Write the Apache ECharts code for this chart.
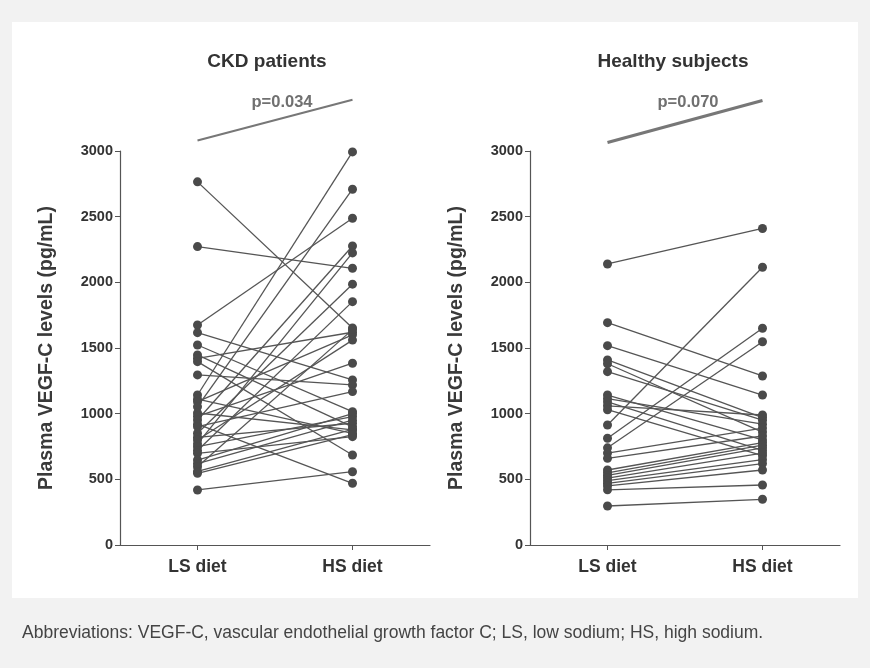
<!DOCTYPE html>
<html>
<head>
<meta charset="utf-8">
<script src="https://cdn.jsdelivr.net/npm/echarts@6/dist/echarts.min.js"></script>
<style>
html,body{margin:0;padding:0;background:#f2f2f2;}
#chart{width:870px;height:668px;}
</style>
</head>
<body>
<div id="chart"></div>
<script>
// ---- data ----
const categories = ['LS diet', 'HS diet'];
const yTicks = [0, 500, 1000, 1500, 2000, 2500, 3000];
const ckdLS = [2765, 2272, 1675, 1617, 1523, 1447, 1421, 1396, 1295, 1142, 1110, 1091, 1053, 1005, 980, 952, 920, 901, 851, 820, 800, 770, 749, 720, 698, 647, 620, 596, 560, 546, 419];
const ckdHS = [1653, 2107, 2488, 1257, 1015, 900, 1620, 685, 1219, 2993, 850, 1600, 2709, 876, 1384, 2277, 470, 1168, 1986, 927, 1560, 2224, 977, 1853, 825, 1000, 950, 1640, 880, 840, 558];
const hLS = [2140, 1693, 1518, 1409, 1380, 1320, 1142, 1115, 1090, 1060, 1030, 914, 813, 740, 700, 660, 571, 550, 530, 510, 490, 470, 450, 420, 297];
const hHS = [2410, 1287, 1142, 970, 860, 950, 800, 920, 720, 990, 680, 2115, 1650, 1548, 890, 830, 780, 760, 740, 700, 650, 620, 571, 457, 348];
const ckdPLine = [3080, 3390];
const hPLine = [3065, 3385];
const panelTitles = ['CKD patients', 'Healthy subjects'];
const pTexts = ['p=0.034', 'p=0.070'];
const yName = 'Plasma VEGF-C levels (pg/mL)';
const caption = 'Abbreviations: VEGF-C, vascular endothelial growth factor C; LS, low sodium; HS, high sodium.';

const FONT = '"Liberation Sans", Arial, Helvetica, sans-serif';
const chart = echarts.init(document.getElementById('chart'), null, {renderer: 'canvas'});

function yAxis(gi) {
  return {
    gridIndex: gi, type: 'value', min: 0, max: 3000, interval: 500,
    name: yName, nameLocation: 'middle', nameGap: 63, nameRotate: 90,
    nameTextStyle: {fontFamily: FONT, fontWeight: 'bold', fontSize: 19.5, color: '#3a3a3a'},
    axisLine: {show: true, lineStyle: {color: '#555', width: 1.2}},
    axisTick: {show: true, length: 5, lineStyle: {color: '#555'}},
    axisLabel: {fontFamily: FONT, fontWeight: 'bold', fontSize: 14.5, color: '#333', margin: 7,
      formatter: v => String(v)},
    splitLine: {show: false}
  };
}
function xAxis(gi) {
  return {
    gridIndex: gi, type: 'category', data: categories, boundaryGap: true,
    axisLine: {show: true, lineStyle: {color: '#555', width: 1.2}},
    axisTick: {show: true, alignWithLabel: true, length: 5, lineStyle: {color: '#555'}},
    axisLabel: {fontFamily: FONT, fontWeight: 'bold', fontSize: 17.5, color: '#333', margin: 13},
    splitLine: {show: false}
  };
}
function pairSeries(gi, ls, hs) {
  return ls.map((v, i) => ({
    type: 'line', xAxisIndex: gi, yAxisIndex: gi,
    data: [v, hs[i]],
    symbol: 'circle', symbolSize: 9,
    itemStyle: {color: '#4a4a4a'},
    lineStyle: {color: '#555', width: 1.3},
    silent: true, animation: false
  }));
}
function pSeries(gi, vals, w) {
  return {
    type: 'line', xAxisIndex: gi, yAxisIndex: gi, data: vals, clip: false,
    symbol: 'none', lineStyle: {color: '#777', width: w}, silent: true, animation: false
  };
}

const series = [].concat(
  pairSeries(0, ckdLS, ckdHS),
  pairSeries(1, hLS, hHS),
  [pSeries(0, ckdPLine, 2), pSeries(1, hPLine, 3.2)]
);

chart.setOption({
  backgroundColor: '#f2f2f2',
  animation: false,
  graphic: [{type: 'rect', left: 12, top: 22, shape: {width: 846, height: 576}, style: {fill: '#ffffff'}, z: -10}],
  title: [
    {text: panelTitles[0], left: 262, top: 47, textAlign: 'center', textStyle: {fontFamily: FONT, fontWeight: 'bold', fontSize: 19, color: '#333'}},
    {text: panelTitles[1], left: 668, top: 47, textAlign: 'center', textStyle: {fontFamily: FONT, fontWeight: 'bold', fontSize: 19, color: '#333'}},
    {text: pTexts[0], left: 277, top: 89, textAlign: 'center', textStyle: {fontFamily: FONT, fontWeight: 'bold', fontSize: 16.5, color: '#707070'}},
    {text: pTexts[1], left: 683, top: 89, textAlign: 'center', textStyle: {fontFamily: FONT, fontWeight: 'bold', fontSize: 16.5, color: '#707070'}},
    {text: caption, left: 17, top: 619, textStyle: {fontFamily: FONT, fontWeight: 'normal', fontSize: 17.5, color: '#444'}}
  ],
  grid: [
    {left: 120, top: 151, width: 310, bottom: 123},
    {left: 530, top: 151, width: 310, bottom: 123}
  ],
  xAxis: [xAxis(0), xAxis(1)],
  yAxis: [yAxis(0), yAxis(1)],
  series: series
});
</script>
</body>
</html>
